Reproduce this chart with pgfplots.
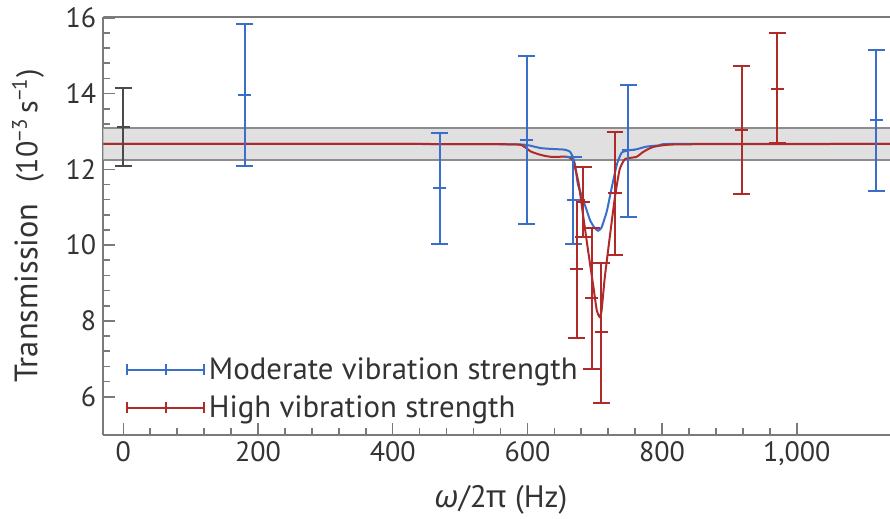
\documentclass[border=0pt]{standalone}
\usepackage{pgfplots}
\pgfplotsset{compat=1.18}
\usepackage{fontspec}
\setmainfont{PT Sans}
\newfontfamily\grk{Noto Sans}
\definecolor{myblue}{HTML}{3A6EC8}
\definecolor{myred}{HTML}{B02A2A}
\definecolor{txt}{HTML}{333333}
\definecolor{axgray}{HTML}{7A7A7A}
\definecolor{bandfill}{HTML}{E0E0E0}
\definecolor{bandedge}{HTML}{8C8C8C}
\definecolor{blk}{HTML}{4A4A4A}
\pgfplotstableread{
x y ep em
180 13.96 1.87 1.87
470 11.50 1.46 1.46
599 12.77 2.22 2.22
668 11.18 1.15 1.15
750 12.51 1.71 1.76
1118 13.30 1.86 1.88
}\bluedata
\pgfplotstableread{
x y ep em
673 9.38 1.82 1.82
683 11.14 0.93 0.93
695.5 8.60 1.86 1.86
710 7.70 1.84 1.86
730 11.37 1.62 1.62
918 13.03 1.70 1.68
971 14.13 1.47 1.43
}\reddata
\pgfplotstableread{
x y ep em
0 13.11 1.04 1.03
}\blackdata
\begin{document}
\begin{tikzpicture}
\begin{axis}[
  name=ax,
  scale only axis,
  width=393.35pt, height=209pt,
  xmin=-29.7, xmax=1138.4, ymin=4.99, ymax=16.02,
  axis lines*=left,
  axis line style={-, axgray, line width=0.9pt},
  tick align=inside,
  xtick={0,200,...,1000}, ytick={6,8,...,16},
  minor x tick num=4, minor y tick num=4,
  major tick length=6pt, minor tick length=3.5pt,
  tick style={axgray, line width=0.8pt},
  /pgf/number format/assume math mode=true,
  /pgf/number format/1000 sep={,},
  tick label style={font=\fontsize{14}{14}\selectfont, text=txt},
  xlabel={{\grk\itshape ω}/2{\grk π} (Hz)},
  xlabel style={font=\fontsize{15.5}{15.5}\selectfont, text=txt, at={(axis description cs:0.5055,-0.1555)}, anchor=center},
  ylabel={{\fontsize{16.2}{16.2}\selectfont Transmission}\hspace{10.5pt}(10\textsuperscript{−3}\,s\textsuperscript{−1})},
  ylabel style={font=\fontsize{15}{15}\selectfont, text=txt, at={(axis description cs:-0.0957,0.5)}, anchor=center},
  legend style={draw=none, fill=none, at={(axis description cs:0.0212,0.2055)}, anchor=north west,
     font=\fontsize{15.4}{15.4}\selectfont, text=txt, row sep=2.5pt},
  legend cell align=left,
]
% band
\addplot[fill=bandfill, draw=none, forget plot] coordinates {(-29.7,12.24) (1138.4,12.24) (1138.4,13.09) (-29.7,13.09)} -- cycle;
\addplot[bandedge, line width=0.8pt, forget plot] coordinates {(-29.7,12.24) (1138.4,12.24)};
\addplot[bandedge, line width=0.8pt, forget plot] coordinates {(-29.7,13.09) (1138.4,13.09)};
% fits
\addplot[myblue, line width=1pt, smooth, tension=0.3, forget plot] coordinates {
(-29.7,12.67) (400,12.67) (580,12.66) (600,12.64) (610,12.6) (620,12.56) (634,12.54) (655,12.52)
(663,12.47) (667,12.35) (671,12.1) (675,11.6) (683,11.19) (693,10.66) (700,10.45) (705,10.38)
(710,10.46) (718,10.9) (725,11.5) (733,12.14) (740,12.44) (750,12.5) (762,12.53) (777,12.6)
(800,12.64) (817,12.67) (1138.4,12.67)};
\addplot[myred, line width=1pt, smooth, tension=0.3, forget plot] coordinates {
(-29.7,12.67) (400,12.67) (579,12.66) (595,12.6) (605,12.47) (620,12.38) (635,12.33) (660,12.33)
(668,12.22) (676,11.64) (683,10.75) (690,9.87) (698,8.9) (703,8.28) (707,8.11) (710,8.25)
(715,9.16) (723,10.31) (730,11.27) (737,12.0) (745,12.27) (762,12.33) (772,12.46) (787,12.59)
(827,12.66) (1138.4,12.67)};
% black point
\addplot[blk, only marks, mark=-, mark size=3.3pt, mark options={line width=1pt}, forget plot,
  error bars/.cd, y dir=both, y explicit, error bar style={line width=1pt, blk},
  error mark=-, error mark options={rotate=90, blk, mark size=4.2pt, line width=1pt}]
  table[x=x, y=y, y error plus=ep, y error minus=em] {\blackdata};
% blue
\addplot[myblue, only marks, mark=-, mark size=3.3pt, mark options={line width=1pt},
  legend image code/.code={
    \draw[myblue, line width=1pt] (0pt,0pt) -- (38.3pt,0pt)
      (0pt,-2.7pt) -- (0pt,2.7pt) (19.15pt,-2.7pt) -- (19.15pt,2.7pt) (38.3pt,-2.7pt) -- (38.3pt,2.7pt);},
  error bars/.cd, y dir=both, y explicit, error bar style={line width=1pt, myblue},
  error mark=-, error mark options={rotate=90, myblue, mark size=4.2pt, line width=1pt}]
  table[x=x, y=y, y error plus=ep, y error minus=em] {\bluedata};
\addlegendentry{Moderate vibration strength}
% red
\addplot[myred, only marks, mark=-, mark size=3.3pt, mark options={line width=1pt},
  legend image code/.code={
    \draw[myred, line width=1pt] (0pt,0pt) -- (38.3pt,0pt)
      (0pt,-2.7pt) -- (0pt,2.7pt) (19.15pt,-2.7pt) -- (19.15pt,2.7pt) (38.3pt,-2.7pt) -- (38.3pt,2.7pt);},
  error bars/.cd, y dir=both, y explicit, error bar style={line width=1pt, myred},
  error mark=-, error mark options={rotate=90, myred, mark size=4.2pt, line width=1pt}]
  table[x=x, y=y, y error plus=ep, y error minus=em] {\reddata};
\addlegendentry{High vibration strength}
\draw[axgray, line width=0.9pt] (rel axis cs:0,1) -- (rel axis cs:1,1);
\end{axis}
\pgfresetboundingbox
\path (ax.south west) ++(-51.65pt,-42pt) rectangle ++(445pt,259.5pt);
\end{tikzpicture}
\end{document}
